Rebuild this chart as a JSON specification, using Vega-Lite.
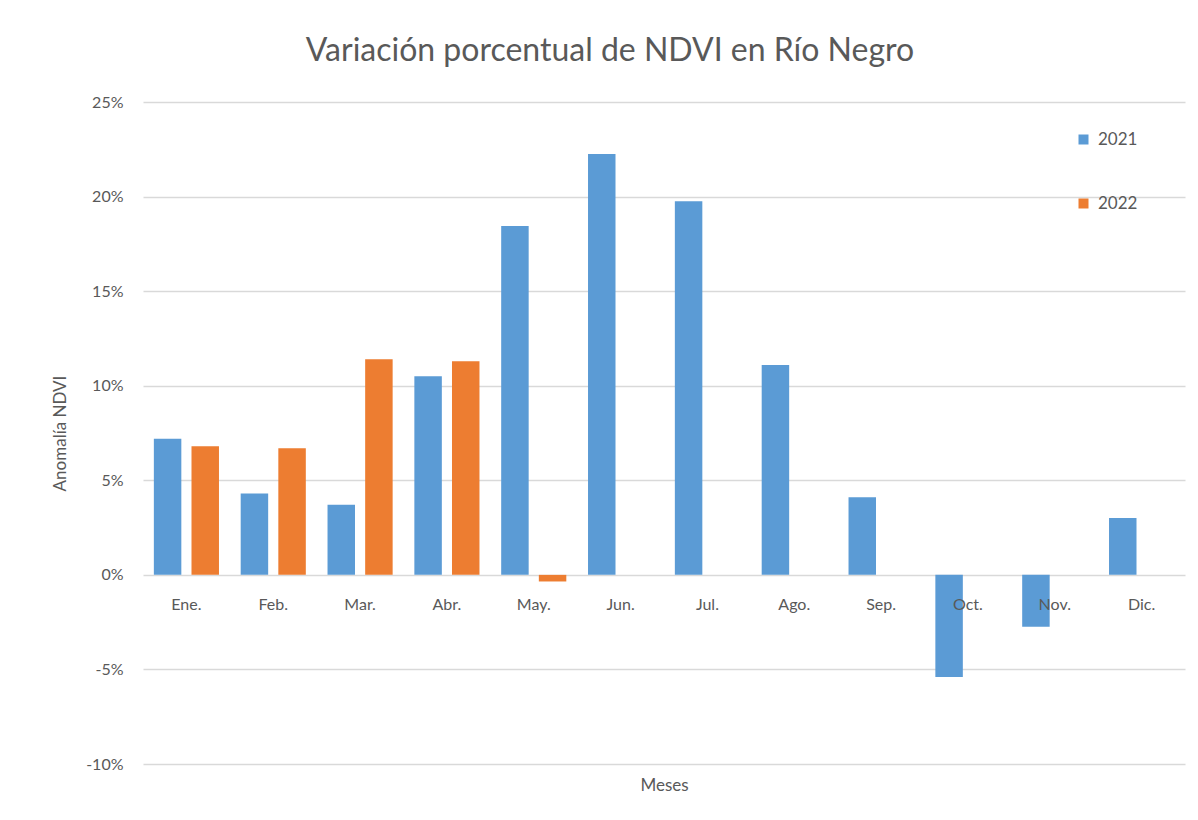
{
  "$schema": "https://vega.github.io/schema/vega-lite/v6.json",
  "width": 1042,
  "height": 662,
  "autosize": {"type": "none"},
  "padding": {"left": 143, "top": 102, "right": 13, "bottom": 56},
  "background": "white",
  "config": {"view": {"stroke": null}, "font": "Lato"},
  "title": {
    "text": "Variación porcentual de NDVI en Río Negro",
    "fontSize": 32,
    "fontWeight": "normal",
    "color": "#595959",
    "anchor": "middle",
    "offset": 26,
    "dx": -54
  },
  "data": {
    "values": [
      {"mes": "Ene.", "anio": "2021", "valor": 7.2},
      {"mes": "Ene.", "anio": "2022", "valor": 6.8},
      {"mes": "Feb.", "anio": "2021", "valor": 4.3},
      {"mes": "Feb.", "anio": "2022", "valor": 6.7},
      {"mes": "Mar.", "anio": "2021", "valor": 3.7},
      {"mes": "Mar.", "anio": "2022", "valor": 11.4},
      {"mes": "Abr.", "anio": "2021", "valor": 10.5},
      {"mes": "Abr.", "anio": "2022", "valor": 11.3},
      {"mes": "May.", "anio": "2021", "valor": 18.45},
      {"mes": "May.", "anio": "2022", "valor": -0.35},
      {"mes": "Jun.", "anio": "2021", "valor": 22.25},
      {"mes": "Jul.", "anio": "2021", "valor": 19.75},
      {"mes": "Ago.", "anio": "2021", "valor": 11.1},
      {"mes": "Sep.", "anio": "2021", "valor": 4.1},
      {"mes": "Oct.", "anio": "2021", "valor": -5.4},
      {"mes": "Nov.", "anio": "2021", "valor": -2.75},
      {"mes": "Dic.", "anio": "2021", "valor": 3.0}
    ]
  },
  "mark": {"type": "bar"},
  "encoding": {
    "x": {
      "field": "mes",
      "type": "nominal",
      "sort": ["Ene.", "Feb.", "Mar.", "Abr.", "May.", "Jun.", "Jul.", "Ago.", "Sep.", "Oct.", "Nov.", "Dic."],
      "scale": {"paddingInner": 0.25, "paddingOuter": 0.125},
      "axis": {
        "title": "Meses",
        "labelAngle": 0,
        "offset": -189,
        "domain": false,
        "ticks": false,
        "grid": false,
        "labelPadding": 21,
        "labelFontSize": 16,
        "labelColor": "#595959",
        "titleFontSize": 17,
        "titleFontWeight": "normal",
        "titleColor": "#595959",
        "titleY": 210,
        "titleBaseline": "middle",
        "zindex": 1
      }
    },
    "xOffset": {
      "field": "anio",
      "type": "nominal",
      "scale": {"paddingInner": 0.27, "paddingOuter": 0}
    },
    "y": {
      "field": "valor",
      "type": "quantitative",
      "scale": {"domain": [-10, 25], "nice": false, "zero": false},
      "axis": {
        "title": "Anomalía NDVI",
        "values": [-10, -5, 0, 5, 10, 15, 20, 25],
        "labelExpr": "datum.value + '%'",
        "domain": false,
        "ticks": false,
        "labelPadding": 20,
        "labelFontSize": 16,
        "labelColor": "#595959",
        "gridColor": "#D9D9D9",
        "gridWidth": 1.3,
        "titleFontSize": 17,
        "titleFontWeight": "normal",
        "titleColor": "#595959",
        "titlePadding": 16
      }
    },
    "color": {
      "field": "anio",
      "type": "nominal",
      "scale": {"domain": ["2021", "2022"], "range": ["#5B9BD5", "#ED7D31"]},
      "legend": {
        "title": null,
        "orient": "none",
        "legendX": 932,
        "legendY": 29,
        "direction": "vertical",
        "symbolType": "square",
        "symbolSize": 100,
        "symbolStrokeWidth": 0,
        "labelFontSize": 17,
        "labelColor": "#595959",
        "rowPadding": 46,
        "labelOffset": 6
      }
    }
  }
}
